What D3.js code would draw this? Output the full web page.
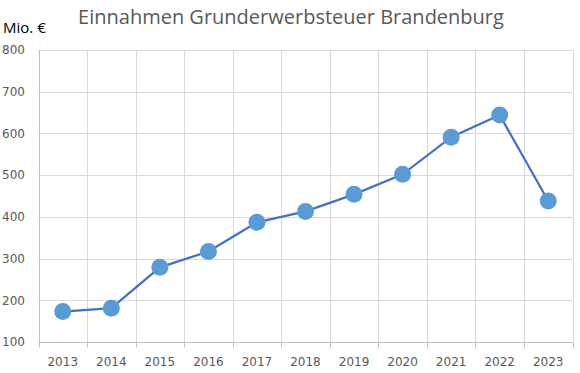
<!DOCTYPE html>
<html>
<head>
<meta charset="utf-8">
<script src="https://cdn.jsdelivr.net/npm/d3@7"></script>
<style>
  body { margin: 0; background: #fff; }
</style>
</head>
<body>
<div id="chart"></div>
<script>
// Einnahmen Grunderwerbsteuer Brandenburg, Mio. €
var years = ["2013", "2014", "2015", "2016", "2017", "2018", "2019", "2020", "2021", "2022", "2023"];
var einnahmen = [173, 181, 279, 317, 387, 413, 454, 502, 591, 644, 438];
var yTicks = [100, 200, 300, 400, 500, 600, 700, 800];

var width = 580,
    height = 373,
    margin = {top: 50, right: 7.5, bottom: 31, left: 38.5};

var svg = d3.select("#chart").append("svg")
  .attr("width", width)
  .attr("height", height);

var x = d3.scaleBand()
  .domain(years)
  .range([margin.left, width - margin.right]);

var y = d3.scaleLinear()
  .domain([100, 800])
  .range([height - margin.bottom, margin.top]);

// horizontal grid
svg.append("g")
  .selectAll("line")
  .data(yTicks)
  .enter().append("line")
  .attr("x1", margin.left)
  .attr("x2", width - margin.right)
  .attr("y1", function(d){ return Math.round(y(d)) + 0.5; })
  .attr("y2", function(d){ return Math.round(y(d)) + 0.5; })
  .style("stroke", "#d9d9d9");

// vertical grid (between categories)
var bounds = years.map(function(d){ return x(d); }).concat([x.range()[1]]);
svg.append("g")
  .selectAll("line")
  .data(bounds)
  .enter().append("line")
  .attr("x1", function(d){ return Math.round(d) + 0.5; })
  .attr("x2", function(d){ return Math.round(d) + 0.5; })
  .attr("y1", margin.top)
  .attr("y2", function(d, i){ return i == 0 ? height - margin.bottom : height - margin.bottom; })
  .style("stroke", function(d, i){ return i == 0 ? "#bfbfbf" : "#d9d9d9"; });

// x axis with small ticks
var xAxis = svg.append("g")
  .attr("transform", "translate(0," + (Math.round(y(100)) + 0.5) + ")");
xAxis.append("line")
  .attr("x1", margin.left)
  .attr("x2", width - margin.right)
  .style("stroke", "#bfbfbf");
xAxis.selectAll("line.tick")
  .data(bounds)
  .enter().append("line")
  .attr("class", "tick")
  .attr("x1", function(d){ return Math.round(d) + 0.5; })
  .attr("x2", function(d){ return Math.round(d) + 0.5; })
  .attr("y1", 0)
  .attr("y2", 5)
  .style("stroke", "#bfbfbf");
xAxis.selectAll("text")
  .data(years)
  .enter().append("text")
  .attr("x", function(d){ return x(d) + x.bandwidth() / 2; })
  .attr("y", 23)
  .attr("text-anchor", "middle")
  .style("font", "12px 'DejaVu Sans'")
  .style("fill", "#595959")
  .text(function(d){ return d; });

// y labels
svg.append("g")
  .selectAll("text")
  .data(yTicks)
  .enter().append("text")
  .attr("x", 25)
  .attr("y", function(d){ return y(d); })
  .attr("dy", "0.36em")
  .attr("text-anchor", "end")
  .style("font", "12px 'DejaVu Sans'")
  .style("fill", "#595959")
  .text(function(d){ return d; });

// line
var line = d3.line()
  .x(function(d, i){ return x(years[i]) + x.bandwidth() / 2; })
  .y(function(d){ return y(d); });

svg.append("path")
  .datum(einnahmen)
  .attr("d", line)
  .style("fill", "none")
  .style("stroke", "#4472c4")
  .style("stroke-width", 2.25);

svg.append("g")
  .selectAll("circle")
  .data(einnahmen)
  .enter().append("circle")
  .attr("cx", function(d, i){ return x(years[i]) + x.bandwidth() / 2; })
  .attr("cy", function(d){ return y(d); })
  .attr("r", 8.5)
  .style("fill", "#5b9bd5");

// title + unit
svg.append("text")
  .attr("x", 291)
  .attr("y", 24)
  .attr("text-anchor", "middle")
  .style("font", "20px 'Open Sans'")
  .style("fill", "#595959")
  .text("Einnahmen Grunderwerbsteuer Brandenburg");

svg.append("text")
  .attr("x", 3)
  .attr("y", 33)
  .style("font", "15px 'Open Sans'")
  .style("fill", "#000")
  .text("Mio. €");
</script>
</body>
</html>
